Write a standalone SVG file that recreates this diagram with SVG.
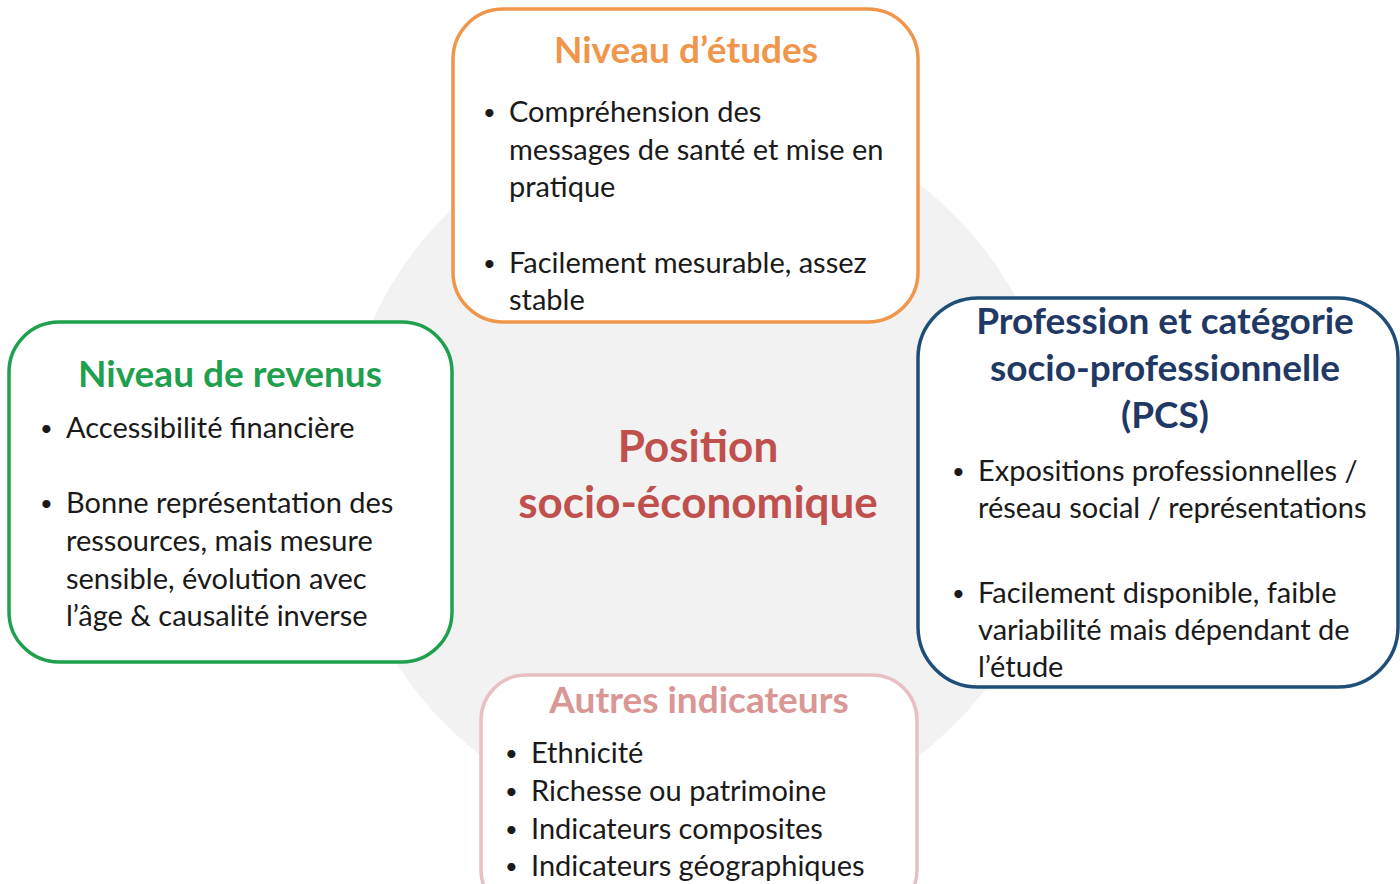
<svg xmlns="http://www.w3.org/2000/svg" width="1400" height="884" viewBox="0 0 1400 884">
<style>
.box{fill:#ffffff;stroke-width:3.5}
.t{font-family:Lato,"Liberation Sans",sans-serif;font-size:29px;fill:#1a1a1a}
.b{font-family:Lato,"Liberation Sans",sans-serif;font-size:22px;fill:#1a1a1a}
.h{font-family:Lato,"Liberation Sans",sans-serif;font-weight:bold;font-size:37px;text-anchor:middle}
.c{font-family:Lato,"Liberation Sans",sans-serif;font-weight:bold;font-size:44px;text-anchor:middle;fill:#c0504d}
</style>
<rect width="1400" height="884" fill="#ffffff"/>
<circle id="bg" cx="700" cy="470" r="360" fill="#f2f2f2"/>
<g id="center">
<text class="c" x="698" y="462">Position</text>
<text class="c" x="698" y="518">socio-économique</text>
</g>
<g id="etudes">
<rect class="box" x="453" y="9" width="465" height="313" rx="50" stroke="#f0964a"/>
<text class="h" x="686" y="63" fill="#f0964a">Niveau d’études</text>
<text class="b" x="483" y="120">•</text>
<text class="t" x="509" y="122">Compréhension des</text>
<text class="t" x="509" y="160">messages de santé et mise en</text>
<text class="t" x="509" y="197">pratique</text>
<text class="b" x="483" y="271">•</text>
<text class="t" x="509" y="273">Facilement mesurable, assez</text>
<text class="t" x="509" y="310">stable</text>
</g>
<g id="revenus">
<rect class="box" x="9" y="322" width="443" height="340" rx="50" stroke="#1fa04f"/>
<text class="h" x="230" y="387" fill="#1fa04f">Niveau de revenus</text>
<text class="b" x="40" y="436">•</text>
<text class="t" x="66" y="438">Accessibilité financière</text>
<text class="b" x="40" y="511">•</text>
<text class="t" x="66" y="513">Bonne représentation des</text>
<text class="t" x="66" y="551">ressources, mais mesure</text>
<text class="t" x="66" y="589">sensible, évolution avec</text>
<text class="t" x="66" y="626">l’âge &amp; causalité inverse</text>
</g>
<g id="pcs">
<rect class="box" x="918" y="298" width="480" height="389" rx="60" stroke="#1f4e79"/>
<text class="h" x="1165" y="334" fill="#1f3864">Profession et catégorie</text>
<text class="h" x="1165" y="381" fill="#1f3864">socio-professionnelle</text>
<text class="h" x="1165" y="428" fill="#1f3864">(PCS)</text>
<text class="b" x="952" y="479">•</text>
<text class="t" x="978" y="481">Expositions professionnelles /</text>
<text class="t" x="978" y="518">réseau social / représentations</text>
<text class="b" x="952" y="601">•</text>
<text class="t" x="978" y="603">Facilement disponible, faible</text>
<text class="t" x="978" y="640">variabilité mais dépendant de</text>
<text class="t" x="978" y="677">l’étude</text>
</g>
<g id="autres">
<rect class="box" x="481" y="675" width="436" height="240" rx="45" stroke="#e8c0c4"/>
<text class="h" x="699" y="713" fill="#d99694">Autres indicateurs</text>
<text class="b" x="505" y="761">•</text>
<text class="t" x="531" y="763">Ethnicité</text>
<text class="b" x="505" y="799">•</text>
<text class="t" x="531" y="801">Richesse ou patrimoine</text>
<text class="b" x="505" y="837">•</text>
<text class="t" x="531" y="839">Indicateurs composites</text>
<text class="b" x="505" y="874">•</text>
<text class="t" x="531" y="876">Indicateurs géographiques</text>
</g>
<g id="connectors"></g>
</svg>
